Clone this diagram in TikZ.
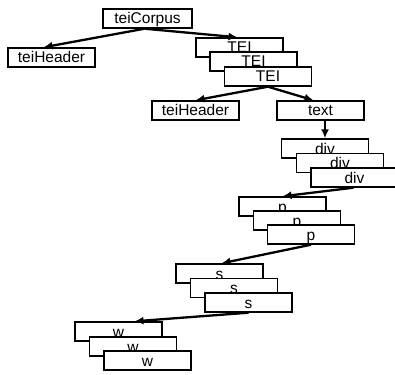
\documentclass[tikz,border=0pt]{standalone}
\usepackage{fontspec}
\setmainfont{Liberation Sans}
\usetikzlibrary{arrows.meta}
\begin{document}
\begin{tikzpicture}[x=1pt,y=-1pt,
  elem/.style={draw=black,fill=white,line width=1.4pt,rectangle,inner sep=0pt,
    minimum width=87pt,minimum height=19pt,text height=13pt,text depth=2pt,
    font=\fontsize{15.5}{16}\selectfont},
  link/.style={line width=2.3pt,-{Latex[length=9pt,width=8pt]}}]
\useasboundingbox (0,0) rectangle (395,374);
\node[elem,minimum width=89pt] (corpus) at (147.5,18.5) {teiCorpus};
\node[elem] (hdra) at (51.5,57.5) {teiHeader};
\node[elem] (teia) at (239.5,47.5) {TEI};
\node[elem] (teib) at (253.5,61.5) {TEI};
\node[elem] (teic) at (268,76.5) {TEI};
\node[elem] (hdrb) at (195.5,110.5) {teiHeader};
\node[elem] (txt) at (320.5,110.5) {text};
\node[elem] (diva) at (325,148.5) {div};
\node[elem] (divb) at (340,163) {div};
\node[elem] (divc) at (354.5,177.5) {div};
\node[elem] (pa) at (282.5,206.5) {p};
\node[elem] (pb) at (297,220.5) {p};
\node[elem] (pc) at (311,234.5) {p};
\node[elem] (sa) at (219.5,273.5) {s};
\node[elem] (sb) at (234,288) {s};
\node[elem] (sc) at (248.5,302.5) {s};
\node[elem] (wa) at (118.5,331.5) {w};
\node[elem] (wb) at (133,346.5) {w};
\node[elem] (wc) at (147.5,360.5) {w};
\draw[link] ([xshift=-3pt]corpus.south) -- ([xshift=-8pt]hdra.north);
\draw[link] ([xshift=-3pt]corpus.south) -- ([xshift=-2pt]teia.north);
\draw[link] (teic.south) -- (hdrb.north);
\draw[link] (teic.south) -- ([xshift=-7pt]txt.north);
\draw[link] (diva.north |- txt.south) -- (diva.north);
\draw[link] ([xshift=-1pt]divc.south) -- (pa.north);
\draw[link] (pc.south) -- ([xshift=2pt]sa.north);
\draw[link] (sc.south) -- ([xshift=16pt]wa.north);
\end{tikzpicture}
\end{document}
